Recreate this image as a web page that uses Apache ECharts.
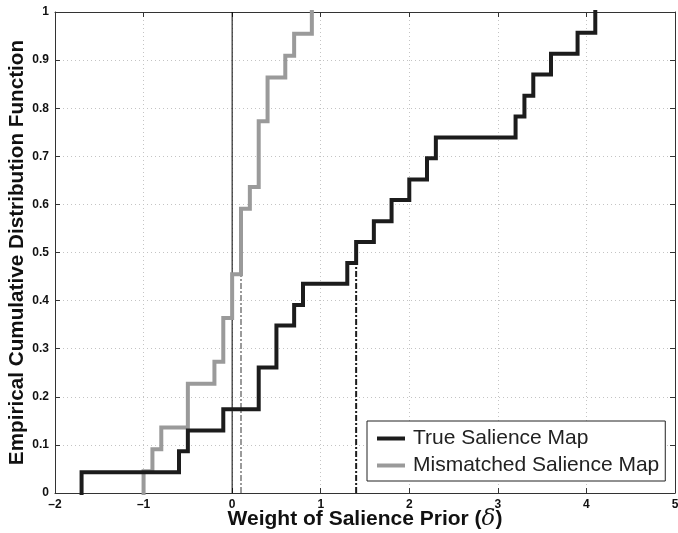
<!DOCTYPE html>
<html>
<head>
<meta charset="utf-8">
<script src="https://cdn.jsdelivr.net/npm/echarts@6/dist/echarts.min.js"></script>
<style>
html,body{margin:0;padding:0;background:#fff;}
#c{width:678px;height:533px;}
</style>
</head>
<body>
<div id="c"></div>
<script>
// ---- data ----
var trueX = [-1.7, -0.6, -0.5, -0.1, 0.3, 0.5, 0.7, 0.8, 1.3, 1.4, 1.6, 1.8, 2.0, 2.2, 2.3, 3.2, 3.3, 3.4, 3.6, 3.9, 4.1];
var trueF = [0.043, 0.087, 0.130, 0.174, 0.261, 0.348, 0.391, 0.435, 0.478, 0.522, 0.565, 0.609, 0.652, 0.696, 0.739, 0.783, 0.826, 0.870, 0.913, 0.957, 1.0];
var mismatchX = [-1.0, -0.9, -0.8, -0.5, -0.2, -0.1, 0.0, 0.1, 0.2, 0.3, 0.4, 0.6, 0.7, 0.9];
var mismatchF = [0.045, 0.091, 0.136, 0.227, 0.273, 0.364, 0.455, 0.591, 0.636, 0.773, 0.864, 0.909, 0.955, 1.0];
var zeroLineX = [0, 0];
var zeroLineY = [0, 1];
var mismatchMarkX = [0.1, 0.1];
var mismatchMarkY = [0, 0.455];
var trueMarkX = [1.4, 1.4];
var trueMarkY = [0, 0.478];
var xTicks = [-2, -1, 0, 1, 2, 3, 4, 5];
var yTicks = [0, 0.1, 0.2, 0.3, 0.4, 0.5, 0.6, 0.7, 0.8, 0.9, 1];
var seriesNames = ['True Salience Map', 'Mismatched Salience Map'];

function stairs(xs, fs) {
  var out = [[xs[0], 0]];
  for (var i = 0; i < xs.length; i++) out.push([xs[i], fs[i]]);
  return out;
}
function pairs(xs, ys) {
  var out = [];
  for (var i = 0; i < xs.length; i++) out.push([xs[i], ys[i]]);
  return out;
}
function fmtX(v) {
  var s = String(v);
  return v < 0 ? '\u2013' + String(-v) : s;
}

var FONT = '"Liberation Sans", Arial, Helvetica, sans-serif';
var BLACK = '#1c1c1c';
var GRAY = '#9a9a9a';

var chart = echarts.init(document.getElementById('c'), null, {renderer: 'canvas'});
var gridLine = {show: true, lineStyle: {color: '#c4c4c4', width: 1, type: [1, 3]}};
var option = {
  animation: false,
  backgroundColor: '#fff',
  grid: {left: 55, right: 3, top: 12, bottom: 40, containLabel: false, outerBoundsMode: 'none'},
  xAxis: [{
    type: 'value', min: xTicks[0], max: xTicks[xTicks.length - 1], interval: 1,
    position: 'bottom',
    axisLine: {onZero: false, lineStyle: {color: '#333', width: 1}},
    axisTick: {inside: true, length: 5, lineStyle: {color: '#333'}},
    axisLabel: {formatter: fmtX, color: '#111', fontFamily: FONT, fontWeight: 'bold', fontSize: 12, margin: 6},
    splitLine: gridLine,
    name: '{t|Weight of Salience Prior (}{d|\u03b4}{t|)}',
    nameLocation: 'middle', nameGap: 15, nameMoveOverlap: false,
    nameTextStyle: {
      rich: {
        t: {fontFamily: FONT, fontWeight: 'bold', fontSize: 21, color: '#111'},
        d: {fontFamily: '"DejaVu Serif", serif', fontStyle: 'italic', fontWeight: 'normal', fontSize: 23, color: '#111'}
      }
    }
  }, {
    type: 'value', min: xTicks[0], max: xTicks[xTicks.length - 1], interval: 1,
    position: 'top',
    axisLine: {onZero: false, lineStyle: {color: '#333', width: 1}},
    axisTick: {inside: true, length: 5, lineStyle: {color: '#333'}},
    axisLabel: {show: false},
    splitLine: {show: false}
  }],
  yAxis: [{
    type: 'value', min: yTicks[0], max: yTicks[yTicks.length - 1], interval: 0.1,
    position: 'left',
    axisLine: {show: true, onZero: false, lineStyle: {color: '#333', width: 1}},
    axisTick: {show: true, inside: true, length: 5, lineStyle: {color: '#333'}},
    axisLabel: {formatter: function (v) { return String(Math.round(v * 10) / 10); }, color: '#111', fontFamily: FONT, fontWeight: 'bold', fontSize: 12, margin: 6},
    splitLine: gridLine,
    name: 'Empirical Cumulative Distribution Function',
    nameLocation: 'middle', nameGap: 27, nameMoveOverlap: false,
    nameTextStyle: {fontFamily: FONT, fontWeight: 'bold', fontSize: 20.7, color: '#111'}
  }, {
    type: 'value', min: yTicks[0], max: yTicks[yTicks.length - 1], interval: 0.1,
    position: 'right',
    axisLine: {show: true, onZero: false, lineStyle: {color: '#333', width: 1}},
    axisTick: {show: true, inside: true, length: 5, lineStyle: {color: '#333'}},
    axisLabel: {show: false},
    splitLine: {show: false}
  }],
  legend: {
    show: true,
    data: seriesNames,
    orient: 'vertical',
    left: 367, top: 421,
    padding: [7, 6, 5, 10],
    itemGap: 6,
    itemWidth: 28, itemHeight: 4,
    icon: 'rect',
    borderColor: '#222', borderWidth: 1,
    backgroundColor: '#fff',
    textStyle: {fontFamily: FONT, fontSize: 21, color: '#222', lineHeight: 21, padding: [0, 0, 0, 3]}
  },
  series: [{
    type: 'line', silent: true, data: pairs(zeroLineX, zeroLineY), showSymbol: false,
    lineStyle: {color: '#000', width: 1}, z: 1
  }, {
    type: 'line', silent: true, data: pairs(mismatchMarkX, mismatchMarkY), showSymbol: false,
    lineStyle: {color: GRAY, width: 2, type: [6, 2, 2, 2]}, z: 1
  }, {
    type: 'line', silent: true, data: pairs(trueMarkX, trueMarkY), showSymbol: false,
    lineStyle: {color: BLACK, width: 2, type: [6, 2, 2, 2]}, z: 1
  }, {
    name: seriesNames[0], type: 'line', step: 'end', data: stairs(trueX, trueF), showSymbol: false,
    lineStyle: {color: BLACK, width: 4, cap: 'square', join: 'miter'}, itemStyle: {color: BLACK}, z: 3
  }, {
    name: seriesNames[1], type: 'line', step: 'end', data: stairs(mismatchX, mismatchF), showSymbol: false,
    lineStyle: {color: GRAY, width: 4, cap: 'square', join: 'miter'}, itemStyle: {color: GRAY}, z: 2
  }]
};
chart.setOption(option);
</script>
</body>
</html>
